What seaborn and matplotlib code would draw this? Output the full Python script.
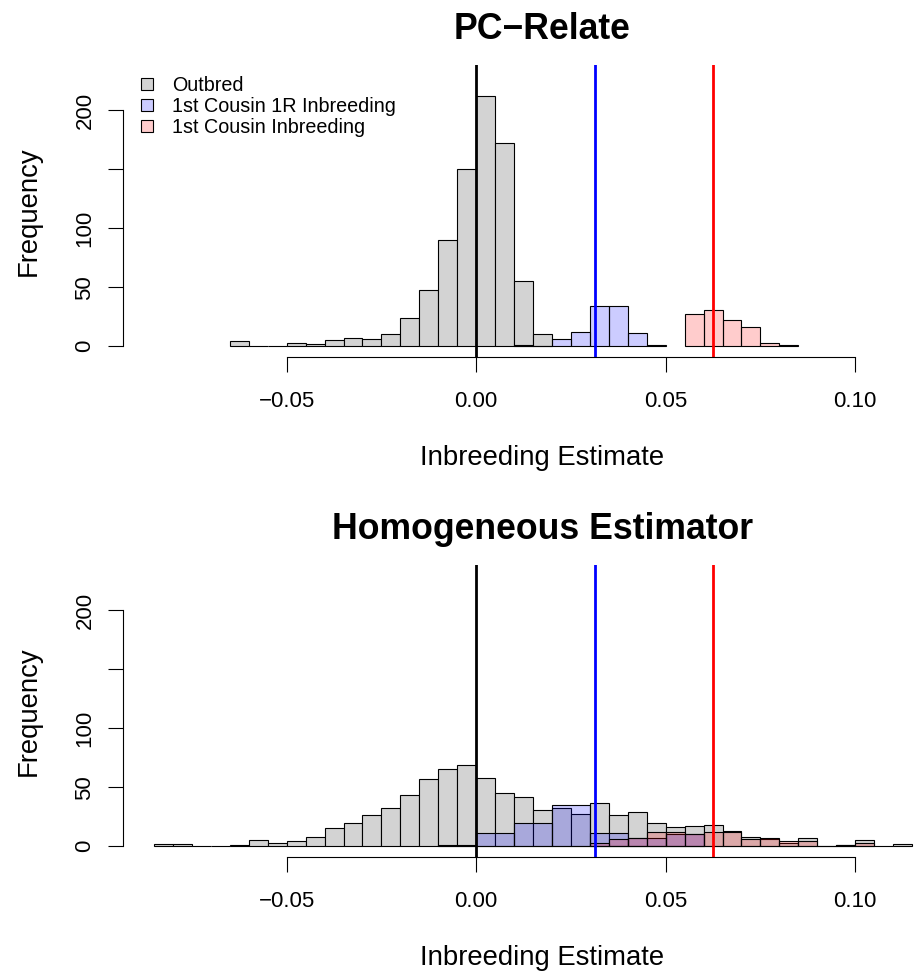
import numpy as np
import pandas as pd
import matplotlib
matplotlib.use("Agg")
import matplotlib.pyplot as plt
import seaborn as sns
from matplotlib.patches import Patch

plt.rcParams['font.family'] = ['Liberation Sans', 'DejaVu Sans']

# ---------------- data ----------------
titles = ["PC\u2212Relate", "Homogeneous Estimator"]
legend_labels = ["Outbred", "1st Cousin 1R Inbreeding", "1st Cousin Inbreeding"]
x_label = "Inbreeding Estimate"
y_label = "Frequency"
x_ticks = [-0.05, 0.0, 0.05, 0.10]
x_tick_labels = ["\u22120.05", "0.00", "0.05", "0.10"]
y_ticks = [0, 50, 100, 150, 200]
y_tick_labels = ["0", "50", "100", "", "200"]
expected_values = [0.0, 1 / 32, 1 / 16]   # outbred, 1st cousin 1R, 1st cousin
x_range = [-0.085, 0.12]
y_range = [0, 229]

# PC-Relate histograms (first bin left edge, bin width, counts)
pc_outbred_start, pc_outbred_width = -0.065, 0.005
pc_outbred_counts = [4, 0, 0, 3, 2, 5, 7, 6, 10, 24, 48, 90, 150, 212, 172, 55, 10]
pc_cousin1r_start, pc_cousin1r_width = 0.010, 0.005
pc_cousin1r_counts = [1, 0, 6, 12, 34, 34, 11, 1]
pc_cousin_start, pc_cousin_width = 0.055, 0.005
pc_cousin_counts = [27, 31, 22, 16, 3, 1]

# Homogeneous estimator histograms
hom_outbred_start, hom_outbred_width = -0.085, 0.005
hom_outbred_counts = [2, 2, 0, 0, 1, 5, 3, 4, 8, 15, 20, 26, 32, 43, 57, 65, 69,
                      58, 45, 42, 31, 32, 27, 37, 26, 29, 20, 16, 17, 18, 13, 8, 6,
                      3, 7, 0, 1, 5, 0, 2]
hom_cousin1r_start, hom_cousin1r_width = -0.010, 0.010
hom_cousin1r_counts = [1, 11, 20, 35, 11, 7, 10]
hom_cousin_start, hom_cousin_width = 0.030, 0.005
hom_cousin_counts = [3, 6, 7, 12, 12, 10, 12, 12, 6, 7, 4, 4, 0, 1, 3]

# ---------------- styles ----------------
fill_colors = ["#D3D3D3", (0, 0, 1, 0.2), (1, 0, 0, 0.2)]
line_colors = ["black", "blue", "red"]

W, H = 915, 973
fig = plt.figure(figsize=(W / 100, H / 100), dpi=100)


def px_axes(left, top, right, bottom):
    return fig.add_axes([left / W, 1 - bottom / H, (right - left) / W, (bottom - top) / H])


ax1 = px_axes(123, 65, 962, 357)
ax2 = px_axes(123, 565, 962, 857)


def draw_hist(ax, start, width, counts, face):
    counts = np.asarray(counts, dtype=float)
    edges = start + width * np.arange(len(counts) + 1)
    df = pd.DataFrame({"value": edges[:-1] + width / 2, "count": counts})
    sns.histplot(data=df, x="value", weights="count", bins=list(edges), ax=ax,
                 stat="count", element="bars", fill=True, facecolor=face,
                 edgecolor="black", linewidth=0.8)


panels = [
    (ax1, [(pc_outbred_start, pc_outbred_width, pc_outbred_counts),
           (pc_cousin1r_start, pc_cousin1r_width, pc_cousin1r_counts),
           (pc_cousin_start, pc_cousin_width, pc_cousin_counts)]),
    (ax2, [(hom_outbred_start, hom_outbred_width, hom_outbred_counts),
           (hom_cousin1r_start, hom_cousin1r_width, hom_cousin1r_counts),
           (hom_cousin_start, hom_cousin_width, hom_cousin_counts)]),
]

xpad = 0.04 * (x_range[1] - x_range[0])
ypad = 0.04 * (y_range[1] - y_range[0])

for (ax, series), title in zip(panels, titles):
    for (start, width, counts), face in zip(series, fill_colors):
        draw_hist(ax, start, width, counts, face)
    for v, c in zip(expected_values, line_colors):
        ax.axvline(v, color=c, lw=2)
    ax.set_xlim(x_range[0] - xpad, x_range[1] + xpad)
    ax.set_ylim(y_range[0] - ypad, y_range[1] + ypad)
    ax.set_xticks(x_ticks)
    ax.set_xticklabels(x_tick_labels)
    ax.set_yticks(y_ticks)
    ax.set_yticklabels(y_tick_labels, rotation=90, va="center")
    for s in ["top", "right"]:
        ax.spines[s].set_visible(False)
    ax.spines["bottom"].set_bounds(x_ticks[0], x_ticks[-1])
    ax.spines["left"].set_bounds(y_ticks[0], y_ticks[-1])
    for s in ["bottom", "left"]:
        ax.spines[s].set_linewidth(0.8)
    ax.tick_params(axis="both", direction="out", length=10.8, width=0.8,
                   labelsize=16)
    ax.tick_params(axis="x", pad=14)
    ax.tick_params(axis="y", pad=9)
    ax.set_xlabel(x_label, fontsize=19.8)
    ax.set_ylabel(y_label, fontsize=19.8)
    ax.xaxis.set_label_coords(0.5, -0.30)
    ax.yaxis.set_label_coords(-0.097, 0.5)
    ax.set_title(title, fontsize=25.7, fontweight="bold", y=1.090, pad=0)
    ax.patch.set_alpha(0)

handles = [Patch(facecolor=c, edgecolor="black", linewidth=0.8) for c in fill_colors]
ax1.legend(handles, legend_labels, loc="upper left",
           bbox_to_anchor=(140.5 / W, 1 - 76 / H), bbox_transform=fig.transFigure,
           frameon=False, fontsize=14.2, handlelength=0.62, handleheight=0.55,
           handletextpad=1.0, labelspacing=0.1, borderpad=0, borderaxespad=0)

fig.savefig("out.png", dpi=100)
